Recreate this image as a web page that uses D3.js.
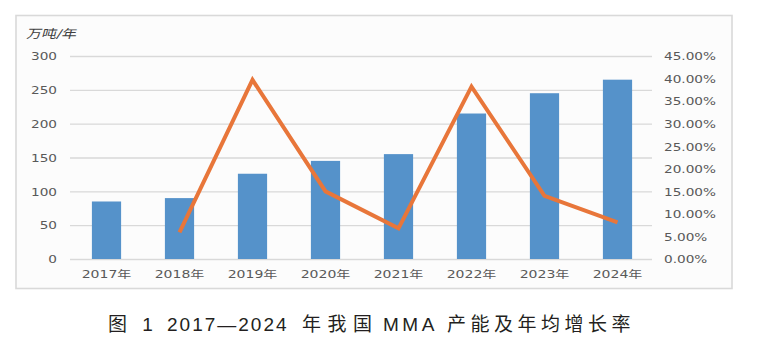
<!DOCTYPE html>
<html><head><meta charset="utf-8">
<script src="https://cdn.jsdelivr.net/npm/d3@7"></script>
<style>
html,body{margin:0;padding:0;background:#fff;}
svg{display:block;}
</style></head>
<body>
<svg id="c" width="759" height="343"></svg>
<script>
const years = ["2017","2018","2019","2020","2021","2022","2023","2024"];
const categoryLabels = ["2017年","2018年","2019年","2020年","2021年","2022年","2023年","2024年"];
const capacity = [85, 90, 126, 145, 155, 215, 245, 265];
const growthYears = ["2018","2019","2020","2021","2022","2023","2024"];
const growthRate = [0.059, 0.397, 0.150, 0.068, 0.382, 0.140, 0.081];
const leftTicks = [0, 50, 100, 150, 200, 250, 300];
const rightTicks = [0, 0.05, 0.10, 0.15, 0.20, 0.25, 0.30, 0.35, 0.40, 0.45];
const unitLabel = "万吨/年";
const titleParts = ["图 1", "2017—2024", "年我国", "MMA", "产能及年均增长率"];

const svg = d3.select("#c");
const plot = {left: 70, right: 654, top: 56, bottom: 259};
const fontTick = "'DejaVu Sans','Noto Sans CJK SC',sans-serif";

// frame
svg.append("rect").attr("x", 16).attr("y", 15.5).attr("width", 716).attr("height", 273)
  .attr("fill", "#fcfcfc").attr("stroke", "#d9d9d9").attr("stroke-width", 1.6);

const x = d3.scaleBand().domain(years).range([plot.left, plot.right]).paddingInner(0.6).paddingOuter(0.3);
const yL = d3.scaleLinear().domain([0, 300]).range([plot.bottom, plot.top]);
const yR = d3.scaleLinear().domain([0, 0.45]).range([plot.bottom, plot.top]);

// gridlines
svg.append("g").selectAll("line").data(leftTicks).join("line")
  .attr("x1", plot.left).attr("x2", plot.right - 2)
  .attr("y1", d => yL(d) + 0.5).attr("y2", d => yL(d) + 0.5)
  .attr("stroke", "#d9d9d9").attr("stroke-width", 1.3);

// bars
svg.append("g").selectAll("rect").data(capacity).join("rect")
  .attr("x", (d, i) => x(years[i]))
  .attr("width", x.bandwidth())
  .attr("y", d => yL(d))
  .attr("height", d => yL(0) - yL(d))
  .attr("fill", "#5592ca");

// line
const line = d3.line().x((d, i) => x(growthYears[i]) + x.bandwidth() / 2).y(d => yR(d));
svg.append("path").datum(growthRate).attr("d", line)
  .attr("fill", "none").attr("stroke", "#e8763a").attr("stroke-width", 4)
  .attr("stroke-linejoin", "miter").attr("stroke-linecap", "butt");

// left axis
const gL = svg.append("g").attr("transform", `translate(${plot.left},0)`)
  .call(d3.axisLeft(yL).tickValues(leftTicks).tickSize(0).tickPadding(0));
gL.select(".domain").remove();
gL.selectAll("text").attr("x", 0).attr("dy", "0.36em")
  .attr("transform", "translate(-13,0) scale(1.3,1)")
  .attr("font-family", fontTick).attr("font-size", 10.5).attr("fill", "#595959");

// right axis
const gR = svg.append("g").attr("transform", `translate(${plot.right},0)`)
  .call(d3.axisRight(yR).tickValues(rightTicks).tickSize(0).tickPadding(0).tickFormat(d3.format(".2%")));
gR.select(".domain").remove();
gR.selectAll("text").attr("x", 0).attr("dy", "0.36em")
  .attr("transform", "translate(10,0) scale(1.3,1)")
  .attr("font-family", fontTick).attr("font-size", 10.5).attr("fill", "#595959");

// bottom axis
const gB = svg.append("g").attr("transform", `translate(0,${plot.bottom})`)
  .call(d3.axisBottom(x).tickSize(0).tickPadding(0).tickFormat((d, i) => categoryLabels[i]));
gB.select(".domain").remove();
gB.selectAll("text").attr("y", 0).attr("dy", 0)
  .attr("transform", "translate(0,19) scale(1.3,1)")
  .attr("font-family", fontTick).attr("font-size", 10.8).attr("fill", "#595959");

// unit label
svg.append("text").text(unitLabel)
  .attr("transform", "translate(26,38) scale(1.25,1) skewX(-12)")
  .attr("font-family", fontTick).attr("font-size", 12).attr("fill", "#404040");

// title
const titleX = [108, 167, 302, 383, 447];
const titleLS = [5, 2, 6.5, 3.5, 4.5];
const t = svg.append("text").attr("y", 331)
  .attr("font-family", "'Liberation Sans','Noto Sans CJK SC',sans-serif")
  .attr("font-size", 19).attr("fill", "#231f20");
t.selectAll("tspan").data(titleParts).join("tspan")
  .attr("x", (d, i) => titleX[i])
  .attr("letter-spacing", (d, i) => titleLS[i])
  .text(d => d);
</script>
</body></html>
